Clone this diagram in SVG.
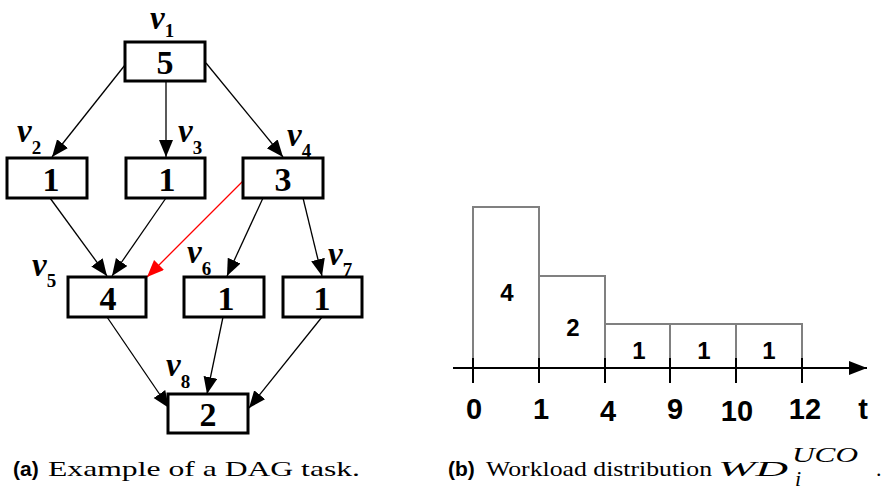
<svg xmlns="http://www.w3.org/2000/svg" width="893" height="491" viewBox="0 0 893 491">
  <style>
    .box { fill: #ffffff; stroke: #000000; stroke-width: 3; }
    .num { font-family: "Liberation Serif", serif; font-weight: bold; font-size: 34px; text-anchor: middle; fill: #000; }
    .lbl { font-family: "Liberation Serif", serif; font-weight: bold; font-style: italic; font-size: 33px; fill: #000; }
    .sub { font-style: normal; font-size: 19px; }
    .edge { stroke: #000; stroke-width: 1.3; fill: none; marker-end: url(#ah); }
    .edge-red { stroke: #ff0000; stroke-width: 1.3; fill: none; marker-end: url(#ahr); }
    .bar { fill: none; stroke: #808080; stroke-width: 2; }
    .tick { stroke: #000; stroke-width: 2; }
    .blab { font-family: "Liberation Sans", sans-serif; font-weight: bold; font-size: 24px; text-anchor: middle; fill: #000; }
    .tlab { font-family: "Liberation Sans", sans-serif; font-weight: bold; font-size: 29px; text-anchor: middle; fill: #000; }
    .capb { font-family: "Liberation Sans", sans-serif; font-weight: bold; font-size: 21px; fill: #000; }
    .capt { font-family: "Liberation Serif", serif; font-size: 22px; fill: #000; }
  </style>
  <defs>
    <marker id="ah" markerUnits="userSpaceOnUse" markerWidth="18" markerHeight="16" refX="17" refY="7" orient="auto">
      <path d="M0,0 L17,7 L0,14 z" fill="#000"/>
    </marker>
    <marker id="ahr" markerUnits="userSpaceOnUse" markerWidth="18" markerHeight="16" refX="17" refY="7" orient="auto">
      <path d="M0,0 L17,7 L0,14 z" fill="#ff0000"/>
    </marker>
    <marker id="axh" markerUnits="userSpaceOnUse" markerWidth="20" markerHeight="16" refX="18" refY="7" orient="auto">
      <path d="M0,0 L18,7 L0,14 z" fill="#000"/>
    </marker>
  </defs>

  <!-- DAG edges -->
  <g id="edges">
    <line class="edge" x1="125" y1="65" x2="52" y2="157"/>
    <line class="edge" x1="166" y1="81" x2="166" y2="157"/>
    <line class="edge" x1="206" y1="63" x2="283" y2="157"/>
    <line class="edge" x1="50" y1="198" x2="107" y2="276"/>
    <line class="edge" x1="166" y1="198" x2="112" y2="276"/>
    <line class="edge-red" x1="243" y1="181" x2="147" y2="277"/>
    <line class="edge" x1="263" y1="198" x2="227" y2="276"/>
    <line class="edge" x1="303" y1="198" x2="322" y2="276"/>
    <line class="edge" x1="107" y1="317" x2="169" y2="408"/>
    <line class="edge" x1="223" y1="317" x2="207" y2="394"/>
    <line class="edge" x1="322" y1="317" x2="249" y2="408"/>
  </g>

  <!-- DAG nodes -->
  <g id="v1">
    <rect class="box" x="125" y="42" width="80" height="39"/>
    <text class="num" x="165" y="74">5</text>
    <text class="lbl" x="150" y="29">v<tspan class="sub" dy="8">1</tspan></text>
  </g>
  <g id="v2">
    <rect class="box" x="7" y="158" width="80" height="40"/>
    <text class="num" x="51" y="191">1</text>
    <text class="lbl" x="17" y="142">v<tspan class="sub" dy="12">2</tspan></text>
  </g>
  <g id="v3">
    <rect class="box" x="126" y="158" width="79" height="40"/>
    <text class="num" x="167" y="191">1</text>
    <text class="lbl" x="178" y="142">v<tspan class="sub" dy="12">3</tspan></text>
  </g>
  <g id="v4">
    <rect class="box" x="243" y="158" width="80" height="40"/>
    <text class="num" x="283" y="191">3</text>
    <text class="lbl" x="287" y="146">v<tspan class="sub" dy="11">4</tspan></text>
  </g>
  <g id="v5">
    <rect class="box" x="68" y="277" width="78" height="40"/>
    <text class="num" x="108" y="310">4</text>
    <text class="lbl" x="32" y="276">v<tspan class="sub" dy="11">5</tspan></text>
  </g>
  <g id="v6">
    <rect class="box" x="184" y="277" width="80" height="40"/>
    <text class="num" x="226" y="310">1</text>
    <text class="lbl" x="187" y="263">v<tspan class="sub" dy="12">6</tspan></text>
  </g>
  <g id="v7">
    <rect class="box" x="283" y="277" width="79" height="40"/>
    <text class="num" x="322" y="310">1</text>
    <text class="lbl" x="328" y="265">v<tspan class="sub" dy="11">7</tspan></text>
  </g>
  <g id="v8">
    <rect class="box" x="168" y="394" width="80" height="39"/>
    <text class="num" x="208" y="426">2</text>
    <text class="lbl" x="166" y="376">v<tspan class="sub" dy="12">8</tspan></text>
  </g>

  <!-- workload distribution chart -->
  <g id="chart">
    <path class="bar" d="M473,368 V207 H539 V368 M539,276 H605 V368 M605,324 H802 V368 M670,324 V368 M736,324 V368"/>
    <line x1="453" y1="368" x2="867" y2="368" stroke="#000" stroke-width="2" marker-end="url(#axh)"/>
    <line class="tick" x1="473" y1="358" x2="473" y2="383"/>
    <line class="tick" x1="539" y1="358" x2="539" y2="383"/>
    <line class="tick" x1="605" y1="358" x2="605" y2="383"/>
    <line class="tick" x1="670" y1="358" x2="670" y2="383"/>
    <line class="tick" x1="736" y1="358" x2="736" y2="383"/>
    <line class="tick" x1="802" y1="358" x2="802" y2="383"/>
    <text class="blab" x="507" y="301">4</text>
    <text class="blab" x="573" y="336">2</text>
    <text class="blab" x="639" y="359">1</text>
    <text class="blab" x="704" y="359">1</text>
    <text class="blab" x="769" y="359">1</text>
    <text class="tlab" x="474" y="419">0</text>
    <text class="tlab" x="541" y="419">1</text>
    <text class="tlab" x="608" y="421">4</text>
    <text class="tlab" x="675" y="419">9</text>
    <text class="tlab" x="737" y="421">10</text>
    <text class="tlab" x="805" y="419">12</text>
    <text class="tlab" x="863" y="419">t</text>
  </g>

  <!-- captions -->
  <g id="captions">
    <text class="capb" x="13" y="476">(a)</text>
    <text class="capt" x="48" y="476" textLength="312" lengthAdjust="spacingAndGlyphs">Example of a DAG task.</text>
    <text class="capb" x="448" y="476">(b)</text>
    <text class="capt" x="486" y="476" textLength="226" lengthAdjust="spacingAndGlyphs">Workload distribution</text>
    <text class="capt" x="718" y="476" font-style="italic" textLength="70" lengthAdjust="spacingAndGlyphs">WD</text>
    <text class="capt" x="792" y="462" font-style="italic" font-size="14px" textLength="66" lengthAdjust="spacingAndGlyphs">UCO</text>
    <text class="capt" x="795" y="486" font-style="italic" font-size="14px">i</text>
    <text class="capt" x="876" y="476">.</text>
  </g>
</svg>
